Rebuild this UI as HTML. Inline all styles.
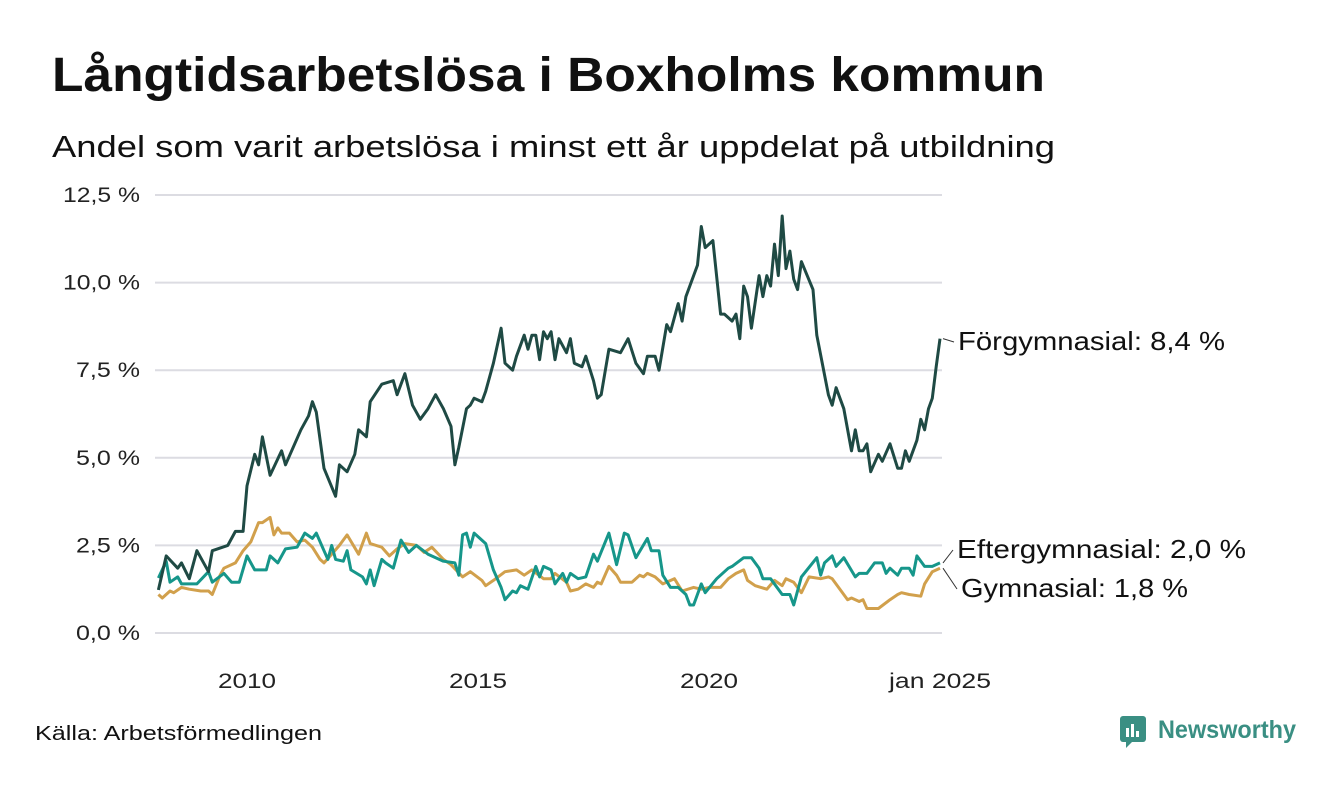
<!DOCTYPE html>
<html><head><meta charset="utf-8"><style>
body{margin:0;background:#fff;}
svg text{font-family:"Liberation Sans",sans-serif;}
</style></head><body>
<svg width="1340" height="780" xmlns="http://www.w3.org/2000/svg">
<text x="52" y="91" font-size="48" font-weight="bold" fill="#111" textLength="993" lengthAdjust="spacingAndGlyphs">Långtidsarbetslösa i Boxholms kommun</text>
<text x="52" y="157" font-size="31" fill="#111" textLength="1003" lengthAdjust="spacingAndGlyphs">Andel som varit arbetslösa i minst ett år uppdelat på utbildning</text>
<g id="grid"></g>
<g id="lines"></g>
<g id="labels"></g>
<text x="35" y="740" font-size="20" fill="#111" textLength="287" lengthAdjust="spacingAndGlyphs">Källa: Arbetsförmedlingen</text>
<g>
<rect x="1120" y="716" width="26" height="26" rx="3" fill="#3a8f83"/>
<rect x="1126" y="728" width="3" height="9" fill="#fff"/><rect x="1131" y="724" width="3" height="13" fill="#fff"/><rect x="1136" y="731" width="3" height="6" fill="#fff"/>
<polygon points="1126,742 1132,742 1126,748" fill="#3a8f83"/>
<text x="1158" y="738" font-size="25" font-weight="bold" fill="#3a8f83" textLength="138" lengthAdjust="spacingAndGlyphs">Newsworthy</text>
</g>
</svg>
<script>
const yTicks=[0,2.5,5,7.5,10,12.5];
const yTickLabels=["0,0 %","2,5 %","5,0 %","7,5 %","10,0 %","12,5 %"];
const xTicks=[24,84,144,204];
const xTickLabels=["2010","2015","2020","jan 2025"];
// months since Jan 2008
const forM=[1,3,6,7,9,11,14,15,19,21,23,24,26,27,28,30,33,34,36,38,40,41,42,44,47,48,50,52,53,55,56,59,62,63,65,67,69,71,73,75,77,78,79,81,82,83,85,86,88,90,91,93,94,96,97,98,99,100,101,102,103,104,105,107,108,109,111,112,114,115,116,118,121,123,125,127,128,130,131,133,134,136,137,138,141,142,143,145,147,148,150,151,152,153,154,155,157,158,159,160,161,162,163,164,165,166,167,168,171,172,175,176,177,179,181,182,183,184,185,186,188,189,191,193,194,195,196,198,199,200,201,202,203,204];
const forV=[1.23,2.2,1.85,2.0,1.55,2.35,1.75,2.35,2.5,2.9,2.9,4.2,5.1,4.8,5.6,4.5,5.2,4.8,5.3,5.8,6.2,6.6,6.3,4.7,3.9,4.8,4.6,5.1,5.8,5.6,6.6,7.1,7.2,6.8,7.4,6.5,6.1,6.4,6.8,6.4,5.9,4.8,5.3,6.4,6.5,6.7,6.6,6.9,7.7,8.7,7.7,7.5,7.9,8.5,8.1,8.5,8.5,7.8,8.6,8.4,8.6,7.8,8.4,8.0,8.4,7.7,7.6,7.9,7.2,6.7,6.8,8.1,8.0,8.4,7.7,7.4,7.9,7.9,7.5,8.8,8.6,9.4,8.9,9.6,10.5,11.6,11.0,11.2,9.1,9.1,8.9,9.1,8.4,9.9,9.6,8.7,10.2,9.6,10.2,9.9,11.1,10.2,11.9,10.4,10.9,10.1,9.8,10.6,9.8,8.5,6.8,6.5,7.0,6.4,5.2,5.8,5.2,5.2,5.4,4.6,5.1,4.9,5.4,4.7,4.7,5.2,4.9,5.5,6.1,5.8,6.4,6.7,7.6,8.4];
const eftM=[1,3,4,6,7,11,14,15,18,20,22,24,26,29,30,32,34,37,39,41,42,44,45,46,47,49,50,51,54,55,56,57,59,60,62,64,66,68,71,75,78,79,80,81,82,83,86,88,90,91,93,94,95,97,99,100,101,103,104,106,107,108,110,112,114,115,118,120,122,123,125,128,129,131,132,134,136,138,139,140,142,143,146,149,150,153,155,157,158,160,163,165,166,168,172,173,174,176,177,179,182,183,185,187,189,190,191,193,194,196,197,198,200,202,204];
const eftV=[1.57,2.05,1.45,1.6,1.4,1.4,1.75,1.45,1.7,1.45,1.45,2.2,1.8,1.8,2.2,2.0,2.4,2.45,2.85,2.7,2.85,2.35,2.1,2.5,2.1,2.05,2.35,1.8,1.6,1.4,1.8,1.35,2.1,2.0,1.85,2.65,2.3,2.5,2.25,2.05,2.0,1.65,2.8,2.85,2.45,2.85,2.55,1.8,1.3,0.95,1.2,1.15,1.35,1.25,1.9,1.6,1.9,1.8,1.4,1.7,1.45,1.7,1.55,1.6,2.25,2.05,2.85,1.95,2.85,2.8,2.15,2.7,2.35,2.35,1.65,1.3,1.3,1.1,0.8,0.8,1.4,1.15,1.55,1.85,1.9,2.15,2.15,1.85,1.55,1.55,1.1,1.1,0.8,1.6,2.15,1.65,2.0,2.2,1.9,2.15,1.6,1.7,1.7,2.0,2.0,1.7,1.85,1.65,1.85,1.85,1.65,2.2,1.9,1.9,2.0];
const gymM=[1,2,4,5,7,9,12,14,15,17,18,21,23,25,27,28,30,31,32,33,35,37,39,41,43,44,46,48,50,53,55,56,59,61,63,65,68,70,72,75,77,80,82,85,86,88,91,94,96,98,101,103,104,107,108,110,112,114,115,116,118,120,121,124,126,127,128,130,132,135,137,140,142,144,147,149,151,153,154,156,159,161,163,164,166,168,170,173,175,176,178,180,181,183,184,185,188,191,193,194,196,199,200,202,204];
const gymV=[1.1,1.0,1.2,1.15,1.3,1.25,1.2,1.2,1.1,1.65,1.85,2.0,2.35,2.6,3.15,3.15,3.3,2.8,3.0,2.85,2.85,2.6,2.65,2.45,2.1,2.0,2.25,2.5,2.8,2.25,2.85,2.55,2.45,2.2,2.4,2.55,2.5,2.3,2.45,2.1,1.95,1.6,1.75,1.5,1.35,1.5,1.75,1.8,1.65,1.8,1.55,1.55,1.7,1.45,1.2,1.25,1.4,1.3,1.45,1.4,1.9,1.65,1.45,1.45,1.65,1.6,1.7,1.6,1.4,1.55,1.2,1.3,1.25,1.3,1.3,1.55,1.7,1.8,1.5,1.35,1.25,1.5,1.35,1.55,1.45,1.15,1.6,1.55,1.6,1.55,1.25,0.95,1.0,0.9,0.95,0.7,0.7,0.95,1.1,1.15,1.1,1.05,1.4,1.75,1.85];

const NS="http://www.w3.org/2000/svg";
const x0=154.6, pxPerMonth=(940-154.6)/204;
const yBase=633, pxPerUnit=(633-195)/12.5;
function xs(m){return x0+m*pxPerMonth;}
function ys(v){return yBase-v*pxPerUnit;}
function mk(tag,attrs,parent){const e=document.createElementNS(NS,tag);for(const k in attrs)e.setAttribute(k,attrs[k]);parent.appendChild(e);return e;}
const grid=document.getElementById('grid');
yTicks.forEach((t,i)=>{
 const l=mk('line',{x1:155,x2:942,y1:ys(t),y2:ys(t),stroke:'#dcdce2','stroke-width':2},grid);
 
 
 const w=yTickLabels[i].length>5?77:64;
 const tx=mk('text',{x:140-w,y:ys(t)+7,'font-size':21,fill:'#222',textLength:w,lengthAdjust:'spacingAndGlyphs'},grid);
 tx.textContent=yTickLabels[i];
 
 
});
xTicks.forEach((t,i)=>{
 const w=xTickLabels[i].length>4?102:58;
 const tx=mk('text',{x:xs(t)-w/2,y:688,'font-size':21,fill:'#222',textLength:w,lengthAdjust:'spacingAndGlyphs'},grid);
 tx.textContent=xTickLabels[i];
 
 
});
const lines=document.getElementById('lines');
function drawLine(M,V,color,name){
 const d=M.map((m,i)=>(i?'L':'M')+xs(m).toFixed(1)+','+ys(V[i]).toFixed(1)).join('');
 const p=mk('path',{d:d,fill:'none',stroke:color,'stroke-width':3,'stroke-linejoin':'round'},lines);
 
 
}
drawLine(gymM,gymV,'#d1a04c','line-gymnasial');
drawLine(eftM,eftV,'#16968a','line-eftergymnasial');
drawLine(forM,forV,'#1f4a44','line-forgymnasial');
const lab=document.getElementById('labels');
function label(txt,lx,ly,w,px,py,name){
 const c=mk('line',{x1:px+3,y1:py,x2:lx-4,y2:ly-8,stroke:'#333','stroke-width':1},lab);
 
 
 const t=mk('text',{x:lx,y:ly,'font-size':26,fill:'#111',textLength:w,lengthAdjust:'spacingAndGlyphs'},lab);
 t.textContent=txt;
 
 
}
label('Förgymnasial: 8,4 %',958,350,267,xs(204),ys(forV[forV.length-1]),'label-forgymnasial');
label('Eftergymnasial: 2,0 %',957,558,289,xs(204),ys(eftV[eftV.length-1]),'label-eftergymnasial');
label('Gymnasial: 1,8 %',961,597,227,xs(204),ys(gymV[gymV.length-1]),'label-gymnasial');
</script>
</body></html>
